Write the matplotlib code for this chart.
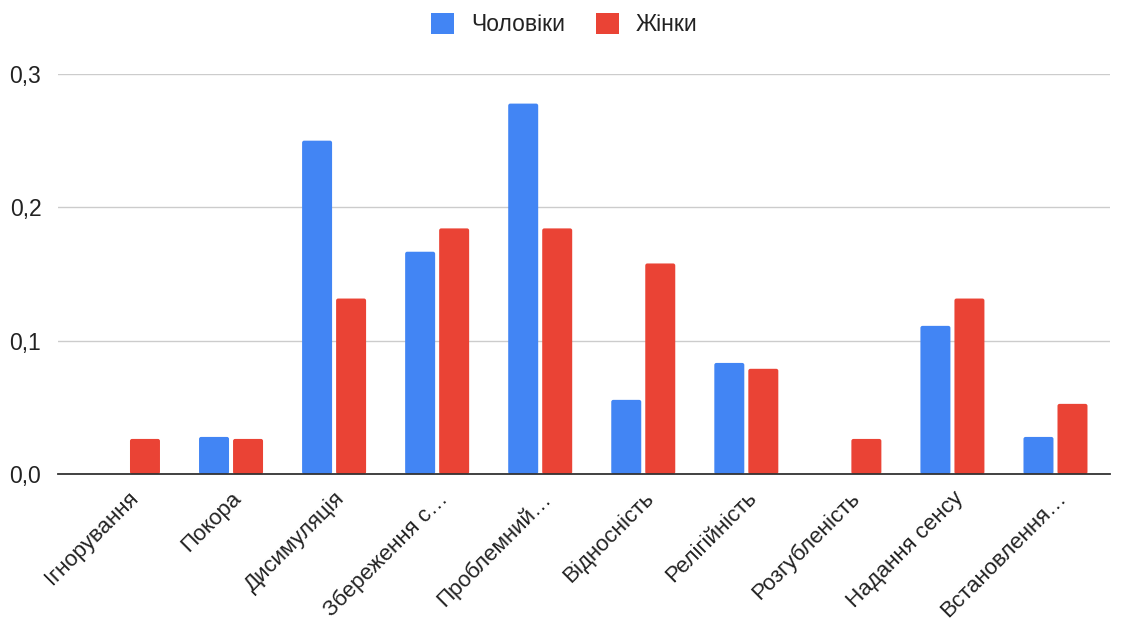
import matplotlib
matplotlib.use("Agg")
import matplotlib.pyplot as plt
import numpy as np
from matplotlib.ticker import FuncFormatter
from matplotlib.patches import FancyBboxPatch

categories = ["Ігнорування", "Покора", "Дисимуляція", "Збереження с…", "Проблемний…",
              "Відносність", "Релігійність", "Розгубленість", "Надання сенсу", "Встановлення…"]
men = [0.0, 0.0278, 0.25, 0.1667, 0.2778, 0.0556, 0.0833, 0.0, 0.1111, 0.0278]
women = [0.0263, 0.0263, 0.1316, 0.1842, 0.1842, 0.1579, 0.0789, 0.0263, 0.1316, 0.0526]
series_names = ["Чоловіки", "Жінки"]
colors = ["#4285F4", "#EA4335"]

plt.rcParams['font.family'] = ['Liberation Sans', 'DejaVu Sans']

fig = plt.figure(figsize=(11.22, 6.31), dpi=100)
ax = fig.add_axes([58/1122, 1 - 474/631, 1052/1122, 400/631])

x = np.arange(len(categories))
w = 0.291
off = 0.165
xmin, xmax, ymin, ymax = -0.679, 9.529, 0, 0.3
ax.set_xlim(xmin, xmax)
ax.set_ylim(ymin, ymax)

# aspect between data units of y and x in pixels
ax_w_px, ax_h_px = 1052, 400
aspect = ((ymax - ymin) / ax_h_px) / ((xmax - xmin) / ax_w_px)

for vals, dx, col, name in [(men, -off, colors[0], series_names[0]),
                            (women, off, colors[1], series_names[1])]:
    bars = ax.bar(x + dx, vals, width=w, color=col, label=name, zorder=3)
    for b in bars:
        b.set_visible(False)
        h = b.get_height()
        if h <= 0:
            continue
        r = 0.02
        p = FancyBboxPatch((b.get_x(), b.get_y()), b.get_width(), h,
                           boxstyle=f"round,pad=0,rounding_size={r}",
                           mutation_aspect=aspect, facecolor=col, edgecolor='none',
                           zorder=3)
        ax.add_patch(p)

ax.set_yticks([0, 0.1, 0.2, 0.3])
ax.yaxis.set_major_formatter(FuncFormatter(lambda v, p: f"{v:.1f}".replace(".", ",")))
ax.grid(axis='y', color='#cccccc', linewidth=1, zorder=0)
for s in ['top', 'right', 'left']:
    ax.spines[s].set_visible(False)
ax.spines['bottom'].set_color('#333333')
ax.spines['bottom'].set_linewidth(1.3)
ax.spines['bottom'].set_zorder(4)
ax.tick_params(axis='both', length=0, colors='#222222')
ax.tick_params(axis='y', pad=12, labelsize=16.5)
ax.set_xticks(x)
ax.set_xticklabels(categories, rotation=45, ha='right', rotation_mode='anchor', fontsize=16)
ax.tick_params(axis='x', pad=10)

handles = [FancyBboxPatch((0, 0), 1, 1, boxstyle="round,pad=0,rounding_size=0.1",
                          facecolor=c, edgecolor='none') for c in colors]
leg = fig.legend(handles, series_names, loc='upper center', bbox_to_anchor=(0.503, 1.012),
                 ncol=2, frameon=False, fontsize=16.5, handlelength=1.0, handleheight=1.0,
                 columnspacing=1.35, handletextpad=0.75)
for t in leg.get_texts():
    t.set_color('#222222')

fig.savefig("out.png", dpi=100)
